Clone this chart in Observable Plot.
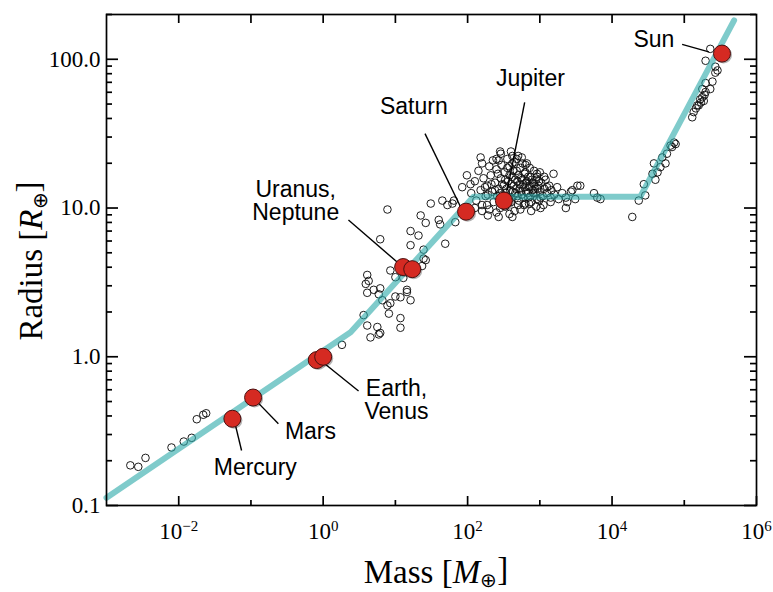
<!DOCTYPE html>
<html><head><meta charset="utf-8">
<script src="https://cdn.jsdelivr.net/npm/d3@7"></script>
<script src="https://cdn.jsdelivr.net/npm/@observablehq/plot@0.6"></script>
<style>body{margin:0;background:#fff}</style>
</head><body><div id="chart"></div>
<script>
const terranSample = [[-2.67,-0.73],[-2.56,-0.74],[-2.46,-0.68],[-2.10,-0.61],[-1.93,-0.57],[-1.82,-0.545],[-1.75,-0.42],[-1.66,-0.39],[-1.62,-0.38],[0.26,0.08]];
const neptunianSample = [[0.89,0.99],[0.79,0.79],[1.49,1.03],[1.65,1.05],[1.79,1.03],[1.35,0.95],[1.42,0.90],[1.60,0.92],[1.62,0.89],[1.21,0.845],[1.32,0.815],[1.69,0.76],[1.21,0.75],[1.39,0.72],[1.42,0.65],[1.37,0.61],[0.93,0.58],[1.00,0.535],[1.11,0.53],[0.61,0.55],[0.63,0.51],[0.59,0.49],[0.70,0.45],[0.61,0.43],[0.79,0.46],[0.77,0.42],[1.16,0.45],[1.07,0.40],[1.00,0.405],[1.21,0.38],[0.82,0.38],[0.89,0.345],[0.93,0.36],[0.56,0.28],[0.91,0.29],[1.07,0.26],[1.07,0.195],[0.61,0.21],[0.75,0.20],[0.79,0.16],[0.655,0.13],[0.77,0.15],[1.16,0.435],[1.39,0.66],[1.83,0.905],[1.925,1.14],[1.99,1.22],[1.72,1.02],[1.81,1.05],[2.04,1.16]];
const jovianSample = [[2.18,1.34],[2.46,1.365],[2.43,1.32],[2.62,1.35],[2.80,1.29],[2.96,1.23],[3.06,1.21],[3.19,1.23],[3.10,1.14],[3.15,1.07],[3.26,1.06],[3.36,1.07],[3.49,1.06],[3.56,1.15],[3.36,1.00],[3.01,1.00],[2.99,1.05],[2.80,1.03],[2.62,0.94],[2.43,0.94],[2.20,0.98],[2.27,1.02],[3.45,1.12],[3.38,1.04],[3.52,1.15],[3.31,1.10],[3.43,1.11],[3.795,1.07],[3.84,1.06],[3.75,1.10],[4.28,0.94],[4.37,1.05]];
const jovianCore = [[2.05,1.10],[2.10,1.18],[2.12,1.05],[2.15,1.25],[2.18,1.12],[2.20,1.02],[2.22,1.20],[2.25,1.08],[2.27,1.15],[2.30,1.28],[2.30,0.99],[2.32,1.22],[2.34,1.11],[2.36,1.04],[2.38,1.17],[2.40,1.26],[2.41,1.08],[2.43,1.13],[2.45,1.00],[2.46,1.20],[2.48,1.06],[2.50,1.15],[2.51,1.24],[2.53,1.10],[2.55,1.03],[2.56,1.18],[2.58,1.28],[2.59,1.12],[2.61,1.07],[2.62,1.21],[2.64,1.15],[2.65,0.98],[2.66,1.10],[2.68,1.25],[2.69,1.18],[2.71,1.05],[2.72,1.13],[2.74,1.20],[2.75,1.09],[2.77,1.16],[2.78,1.02],[2.79,1.23],[2.81,1.11],[2.82,1.18],[2.84,1.07],[2.85,1.14],[2.87,1.21],[2.88,1.04],[2.90,1.17],[2.91,1.10],[2.93,1.13],[2.95,1.19],[2.96,1.06],[2.98,1.15],[3.00,1.11],[3.02,1.17],[3.04,1.08],[3.06,1.13],[3.08,1.19],[3.10,1.10],[3.13,1.15],[3.16,1.12],[3.20,1.09],[3.24,1.14],[2.35,1.32],[2.55,1.33],[2.65,1.31],[2.70,1.35],[2.45,1.38],[2.86,1.27],[2.92,1.25],[3.00,1.24],[2.20,1.30],[2.60,1.38],[2.76,1.30],[2.52,1.01],[2.40,0.97],[2.58,0.96],[2.73,0.99],[2.88,0.98],[3.05,1.02],[3.15,1.04],[2.10,1.00],[2.28,0.95]];
const jovianDense = [[2.45,1.10],[2.48,1.16],[2.50,1.08],[2.52,1.19],[2.54,1.13],[2.57,1.07],[2.58,1.22],[2.60,1.16],[2.62,1.11],[2.63,1.25],[2.66,1.19],[2.67,1.13],[2.69,1.08],[2.70,1.22],[2.72,1.16],[2.73,1.27],[2.74,1.11],[2.76,1.19],[2.77,1.07],[2.79,1.14],[2.80,1.24],[2.81,1.17],[2.83,1.10],[2.84,1.21],[2.86,1.15],[2.87,1.08],[2.89,1.19],[2.90,1.12],[2.92,1.16],[2.94,1.10],[2.96,1.21],[2.97,1.13],[2.99,1.18],[3.01,1.07],[2.55,1.27],[2.62,1.30],[2.68,1.33],[2.75,1.34],[2.82,1.30],[2.42,1.23],[2.38,1.12],[2.33,1.16],[2.28,1.09],[2.24,1.14],[2.47,1.29],[2.40,1.33],[2.60,1.04],[2.70,1.02],[2.85,1.03],[2.95,1.01]];
const stellarSample = [[4.44,1.16],[4.46,1.085],[4.58,1.30],[4.63,1.24],[4.60,1.19],[4.56,1.23],[4.695,1.34],[4.74,1.30],[4.76,1.365],[4.81,1.42],[4.88,1.43],[4.67,1.275],[4.86,1.44],[4.83,1.41],[5.11,1.61],[5.13,1.645],[5.16,1.67],[5.20,1.69],[5.23,1.71],[5.25,1.745],[5.27,1.72],[5.295,1.78],[5.36,1.80],[5.39,1.85],[5.43,1.91],[5.43,1.95],[5.46,1.925],[5.295,1.99],[5.36,2.07],[5.295,1.84],[5.25,1.80],[5.18,1.69],[5.22,1.73],[5.28,1.76]];

// Piecewise mass-radius relation (log10 break points)
const relationLogMass = [-3, 0.38, 2.08, 4.39, 5.69];
const relationLogRadius = [-0.948, 0.165, 1.075, 1.075, 2.262];

// Solar-system bodies
const planetNames = ["Mercury","Venus","Earth","Mars","Uranus","Neptune","Saturn","Jupiter","Sun"];
const planetMass = [0.0553, 0.815, 1, 0.107, 12.8, 17.1, 95.2, 317.8, 333000];
const planetRadius = [0.383, 0.950, 1, 0.532, 4.01, 3.88, 9.45, 11.21, 109.2];

// Annotations
const labelText = ["Sun","Jupiter","Saturn","Uranus,\nNeptune","Earth,\nVenus","Mars","Mercury"];
const labelLogMass = [4.58, 2.87, 1.255, -0.38, 1.015, -0.176, -0.94];
const labelLogRadius = [2.13, 1.87, 1.68, 1.045, -0.294, -0.507, -0.746];
const leaderFrom = [[4.97,2.10],[2.79,1.71],[1.41,1.50],[0.35,0.92],[0.03,-0.05],[-0.90,-0.31],[-1.22,-0.45]];
const leaderTo = [[5.34,2.05],[2.55,1.12],[1.90,1.01],[1.04,0.63],[0.49,-0.23],[-0.62,-0.45],[-1.13,-0.63]];

// Axis ticks
const xMajorTicks = [1e-2, 1e0, 1e2, 1e4, 1e6];
const xMinorTicks = [1e-1, 1e1, 1e3, 1e5];
const xTopTicks = [1e-2, 1e-1, 1e0, 1e1, 1e2, 1e3, 1e4, 1e5];
const yMajorTicks = [0.1, 1, 10, 100];
const yMinorTicks = [0.2,0.3,0.4,0.5,0.6,0.7,0.8,0.9,2,3,4,5,6,7,8,9,20,30,40,50,60,70,80,90,200];

const toPt = ([lm, lr]) => ({mass: 10 ** lm, radius: 10 ** lr});
const samples = [...terranSample, ...neptunianSample, ...jovianSample, ...jovianCore, ...jovianDense, ...stellarSample].map(toPt);
const relation = relationLogMass.map((m, i) => ({mass: 10 ** m, radius: 10 ** relationLogRadius[i]}));
const planets = planetNames.map((n, i) => ({name: n, mass: planetMass[i], radius: planetRadius[i]}));
const labels = labelText.map((t, i) => ({text: t, mass: 10 ** labelLogMass[i], radius: 10 ** labelLogRadius[i]}));
const leaders = leaderFrom.map((f, i) => ({m1: 10 ** f[0], r1: 10 ** f[1], m2: 10 ** leaderTo[i][0], r2: 10 ** leaderTo[i][1]}));

const W = 773, H = 592, ML = 106, MR = 17, MT = 14, MB = 87;
const FW = W - ML - MR, FH = H - MT - MB;
const plot = Plot.plot({
  width: W, height: H,
  marginLeft: ML, marginRight: MR, marginTop: MT, marginBottom: MB,
  x: {type: "log", domain: [1e-3, 1e6]},
  y: {type: "log", domain: [0.1, 200]},
  style: {fontFamily: "Liberation Serif", fontSize: "23px", background: "white", overflow: "visible"},
  marks: [
    Plot.dot(samples, {x: "mass", y: "radius", r: 3.8, stroke: "#111", strokeWidth: 0.95, fill: "none"}),
    Plot.line(relation, {x: "mass", y: "radius", stroke: "#2aa8a8", strokeOpacity: 0.6, strokeWidth: 6, strokeLinejoin: "round"}),
    Plot.link(leaders, {x1: "m1", y1: "r1", x2: "m2", y2: "r2", stroke: "black", strokeWidth: 1.4}),
    Plot.dot(planets, {x: "mass", y: "radius", r: 8.5, fill: "black", fillOpacity: 0.3, dx: 1.5, dy: 1.5}),
    Plot.dot(planets, {x: "mass", y: "radius", r: 8.5, fill: "#d52a22", stroke: "#4a1010", strokeWidth: 1}),
    Plot.text(labels, {x: "mass", y: "radius", text: "text", fontFamily: "Liberation Sans", fontSize: 23, textAnchor: "middle", lineHeight: 0.97, fill: "black"}),
    // inward tick marks
    Plot.tickX(xMajorTicks, {x: d => d, insetTop: FH - 9, stroke: "black", strokeWidth: 1.7}),
    Plot.tickX(xMinorTicks, {x: d => d, insetTop: FH - 5, stroke: "black", strokeWidth: 1.7}),
    Plot.tickX(xTopTicks, {x: d => d, insetBottom: FH - 9, stroke: "black", strokeWidth: 1.7}),
    Plot.tickY(yMajorTicks, {y: d => d, insetRight: FW - 12, stroke: "black", strokeWidth: 1.7}),
    Plot.tickY(yMinorTicks, {y: d => d, insetRight: FW - 6, stroke: "black", strokeWidth: 1.7}),
    Plot.tickY(yMajorTicks, {y: d => d, insetLeft: FW - 12, stroke: "black", strokeWidth: 1.7}),
    Plot.tickY(yMinorTicks, {y: d => d, insetLeft: FW - 6, stroke: "black", strokeWidth: 1.7}),
    Plot.frame({stroke: "black", strokeWidth: 1.7}),
    // tick labels
    Plot.axisX({anchor: "bottom", ticks: xMajorTicks, tickSize: 0, tickPadding: 17, label: null, tickFormat: d => "10^" + Math.round(Math.log10(d))}),
    Plot.axisY({anchor: "left", ticks: yMajorTicks, tickSize: 0, tickPadding: 6, label: null, tickFormat: d => d.toFixed(1)})
  ]
});
document.getElementById("chart").appendChild(plot);

// superscript exponents on x tick labels
const svg = d3.select(plot);
svg.selectAll("text").each(function() {
  const t = this.textContent;
  if (t.startsWith("10^")) {
    const exp = t.slice(3).replace("-", "\u2212");
    const sel = d3.select(this);
    sel.text("");
    sel.append("tspan").text("10");
    sel.append("tspan").attr("dy", "-0.5em").attr("font-size", "15px").text(exp);
  }
});

// axis titles
const yt = svg.append("text")
  .attr("transform", "translate(42,261) rotate(-90)")
  .attr("text-anchor", "middle")
  .attr("font-family", "Liberation Serif").attr("font-size", 33).attr("fill", "black");
yt.append("tspan").text("Radius [");
yt.append("tspan").attr("font-style", "italic").text("R");
yt.append("tspan").attr("font-size", 20).attr("dy", "0.25em").text("\u2295");
yt.append("tspan").attr("dy", "-0.25em").text("]");

const xt = svg.append("text")
  .attr("x", 436).attr("y", 583)
  .attr("text-anchor", "middle")
  .attr("font-family", "Liberation Serif").attr("font-size", 33).attr("fill", "black");
xt.append("tspan").text("Mass [");
xt.append("tspan").attr("font-style", "italic").text("M");
xt.append("tspan").attr("font-size", 20).attr("dy", "0.2em").text("\u2295");
xt.append("tspan").attr("dy", "-0.2em").text("]");
</script></body></html>
